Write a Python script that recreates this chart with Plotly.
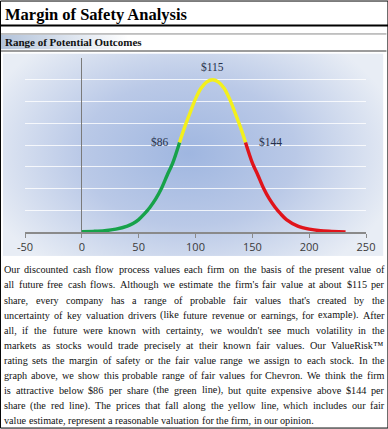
import base64
import plotly.graph_objects as go

W, H = 388, 429

# ---------------- data ----------------
green_x = [0, 10, 20, 30, 40, 45, 50, 55, 60, 65, 70, 75, 80, 86]
green_y = [0.01, 0.03, 0.06, 0.13, 0.27, 0.39, 0.57, 0.83, 1.14, 1.52, 2.0, 2.6, 3.18, 4.12]
yellow_x = [86, 90, 95, 100, 105, 110, 115, 120, 125, 130, 135, 140, 144]
yellow_y = [4.12, 4.75, 5.45, 6.12, 6.62, 6.9, 7.0, 6.9, 6.62, 6.12, 5.45, 4.75, 4.12]
red_x = [144, 150, 155, 160, 165, 170, 175, 180, 190, 200, 210, 220, 232]
red_y = [4.12, 3.18, 2.6, 2.0, 1.52, 1.14, 0.83, 0.57, 0.27, 0.13, 0.06, 0.03, 0.0]

price_labels = ["$86", "$115", "$144"]
price_values = [86, 115, 144]
price_levels = [4.15, 7.58, 4.15]

x_ticks = [-50, 0, 50, 100, 150, 200, 250]
x_tick_labels = ["-50", "0", "50", "100", "150", "200", "250"]
y_grid = [1, 2, 3, 4, 5, 6, 7]

title_text = "Margin of Safety Analysis"
section_text = "Range of Potential Outcomes"
body_lines = [
    "Our discounted cash flow process values each firm on the basis of the present value of",
    "all future free cash flows. Although we estimate the firm's fair value at about $115 per",
    "share, every company has a range of probable fair values that's created by the",
    "uncertainty of key valuation drivers (like future revenue or earnings, for example). After",
    "all, if the future were known with certainty, we wouldn't see much volatility in the",
    "markets as stocks would trade precisely at their known fair values. Our ValueRisk\u2122",
    "rating sets the margin of safety or the fair value range we assign to each stock. In the",
    "graph above, we show this probable range of fair values for Chevron. We think the firm",
    "is attractive below $86 per share (the green line), but quite expensive above $144 per",
    "share (the red line). The prices that fall along the yellow line, which includes our fair",
    "value estimate, represent a reasonable valuation for the firm, in our opinion.",
]

# ---------------- layout geometry (pixels) ----------------
PL, PR, PT, PB = 25.0, 365.6, 57.6, 232.0
pw, ph = PR - PL, PB - PT


def px2x(px):
    return (px - PL) / pw


def py2y(py):
    return (PB - py) / ph


SERIF = "Liberation Serif, Times New Roman, serif"
SANS = "Open Sans, DejaVu Sans, sans-serif"

fig = go.Figure()
fig.add_trace(go.Scatter(x=green_x, y=green_y, mode="lines", line=dict(color="#17a24a", width=3.4, shape="spline", smoothing=0.8), hoverinfo="skip"))
fig.add_trace(go.Scatter(x=yellow_x, y=yellow_y, mode="lines", line=dict(color="#f3f01c", width=3.4, shape="spline", smoothing=0.8), hoverinfo="skip"))
fig.add_trace(go.Scatter(x=red_x, y=red_y, mode="lines", line=dict(color="#e0141b", width=3.4, shape="spline", smoothing=0.8), hoverinfo="skip"))

annotations = []
# price labels
for lab, v, lev in zip(price_labels, price_values, price_levels):
    if v == 115:
        xa, xs = "center", 0
    elif v < 115:
        xa, xs = "right", -9
    else:
        xa, xs = "left", 11
    annotations.append(dict(x=v, y=lev, xref="x", yref="y", text=lab, showarrow=False,
                            xanchor=xa, yanchor="middle", xshift=xs,
                            font=dict(family=SERIF, size=11.5, color="#26304a")))

# title / section
annotations.append(dict(x=px2x(3), y=py2y(13.5), xref="paper", yref="paper", text="<b>%s</b>" % title_text,
                        showarrow=False, xanchor="left", yanchor="middle",
                        font=dict(family=SERIF, size=16.5, color="#000000")))
annotations.append(dict(x=px2x(3), y=py2y(42), xref="paper", yref="paper", text="<b>%s</b>" % section_text,
                        showarrow=False, xanchor="left", yanchor="middle",
                        font=dict(family=SERIF, size=11, color="#111111")))

# justified body text (word placement using Times metrics)
TW = {' ': 250, 'a': 444, 'b': 500, 'c': 444, 'd': 500, 'e': 444, 'f': 333, 'g': 500, 'h': 500, 'i': 278,
      'j': 278, 'k': 500, 'l': 278, 'm': 778, 'n': 500, 'o': 500, 'p': 500, 'q': 500, 'r': 333, 's': 389,
      't': 278, 'u': 500, 'v': 500, 'w': 722, 'x': 500, 'y': 500, 'z': 444,
      'A': 722, 'B': 667, 'C': 667, 'D': 722, 'E': 611, 'F': 556, 'G': 722, 'H': 722, 'I': 333, 'J': 389,
      'K': 722, 'L': 611, 'M': 889, 'N': 722, 'O': 722, 'P': 556, 'Q': 722, 'R': 667, 'S': 556, 'T': 611,
      'U': 722, 'V': 722, 'W': 944, 'X': 722, 'Y': 722, 'Z': 611,
      '.': 250, ',': 250, "'": 180, '(': 333, ')': 333, '$': 500, '-': 333, '\u2122': 980}
FS = 10.2
TX0, TX1 = 3.0, 383.0
LINE0, LSTEP = 270.0, 15.1


def tw(s):
    return sum(TW.get(c, 500) for c in s) * FS / 1000.0


for i, line in enumerate(body_lines):
    yy = py2y(LINE0 + i * LSTEP)
    words = line.split(" ")
    last = i == len(body_lines) - 1
    widths = [tw(w) for w in words]
    if last or len(words) == 1:
        gap = tw(" ")
    else:
        gap = (TX1 - TX0 - sum(widths)) / (len(words) - 1)
    xx = TX0
    for w, wd in zip(words, widths):
        annotations.append(dict(x=px2x(xx - 1), y=yy, xref="paper", yref="paper", text=w, showarrow=False,
                                xanchor="left", yanchor="middle",
                                font=dict(family=SERIF, size=FS, color="#111111")))
        xx += wd + gap

# ---------------- backgrounds (svg gradients) ----------------
chart_svg = ('<svg xmlns="http://www.w3.org/2000/svg" width="380" height="203" viewBox="0 0 380 203" preserveAspectRatio="none">'
             '<defs><radialGradient id="g" gradientUnits="userSpaceOnUse" cx="0" cy="0" r="1" '
             'gradientTransform="translate(185 100) scale(215 145)">'
             '<stop offset="0" stop-color="#9fb6e0"/><stop offset="0.5" stop-color="#bac9e7"/>'
             '<stop offset="1" stop-color="#e8edf5"/></radialGradient></defs>'
             '<rect width="380" height="203" fill="url(#g)"/></svg>')
head_svg = ('<svg xmlns="http://www.w3.org/2000/svg" width="385" height="15" viewBox="0 0 385 15" preserveAspectRatio="none">'
            '<defs><linearGradient id="h" x1="0" y1="0" x2="1" y2="0">'
            '<stop offset="0" stop-color="#b3c3da"/><stop offset="0.33" stop-color="#ffffff"/>'
            '</linearGradient></defs><rect width="385" height="15" fill="url(#h)"/></svg>')


def uri(s):
    return "data:image/svg+xml;base64," + base64.b64encode(s.encode()).decode()


images = [
    dict(source=uri(chart_svg), xref="paper", yref="paper", x=px2x(3), y=py2y(53), sizex=380 / pw, sizey=203 / ph,
         xanchor="left", yanchor="top", sizing="stretch", layer="below"),
    dict(source=uri(head_svg), xref="paper", yref="paper", x=px2x(1), y=py2y(34), sizex=385 / pw, sizey=15 / ph,
         xanchor="left", yanchor="top", sizing="stretch", layer="below"),
]


def hline(py, x0, x1, color, width):
    return dict(type="line", xref="paper", yref="paper", x0=px2x(x0), x1=px2x(x1), y0=py2y(py), y1=py2y(py),
                line=dict(color=color, width=width), layer="above")


shapes = [
    dict(type="rect", xref="paper", yref="paper", x0=px2x(0.5), x1=px2x(387.5), y0=py2y(0.5), y1=py2y(428.5),
         line=dict(color="#000000", width=1), fillcolor="rgba(0,0,0,0)", layer="above"),
    hline(25, 0, 388, "#000000", 2),
    hline(33.5, 1, 386, "#8a8a8a", 1),
    hline(50.5, 1, 386, "#9c9c9c", 2),
]

fig.update_layout(
    width=W, height=H,
    margin=dict(l=PL, r=W - PR, t=PT, b=H - PB, pad=0, autoexpand=False),
    paper_bgcolor="#ffffff", plot_bgcolor="rgba(0,0,0,0)",
    showlegend=False,
    annotations=annotations, images=images, shapes=shapes,
    xaxis=dict(range=[-50, 250], tickvals=x_ticks, ticktext=x_tick_labels, ticks="outside", ticklen=4,
               tickcolor="#8a8a8a", tickwidth=1,
               showline=True, linecolor="#8a8a8a", linewidth=1.5, showgrid=False,
               zeroline=True, zerolinecolor="#7a7a7a", zerolinewidth=1,
               tickfont=dict(family=SANS, size=11, color="#3a3a3a"), fixedrange=True),
    yaxis=dict(range=[0, 8], tickvals=y_grid, showticklabels=False, ticks="", showgrid=True,
               gridcolor="rgba(255,255,255,0.8)", gridwidth=1, zeroline=False, showline=False, fixedrange=True),
)

fig.write_html("out.html", config={"displayModeBar": False, "staticPlot": True},
               post_script="document.body.style.margin='0';document.body.style.overflow='hidden';")
